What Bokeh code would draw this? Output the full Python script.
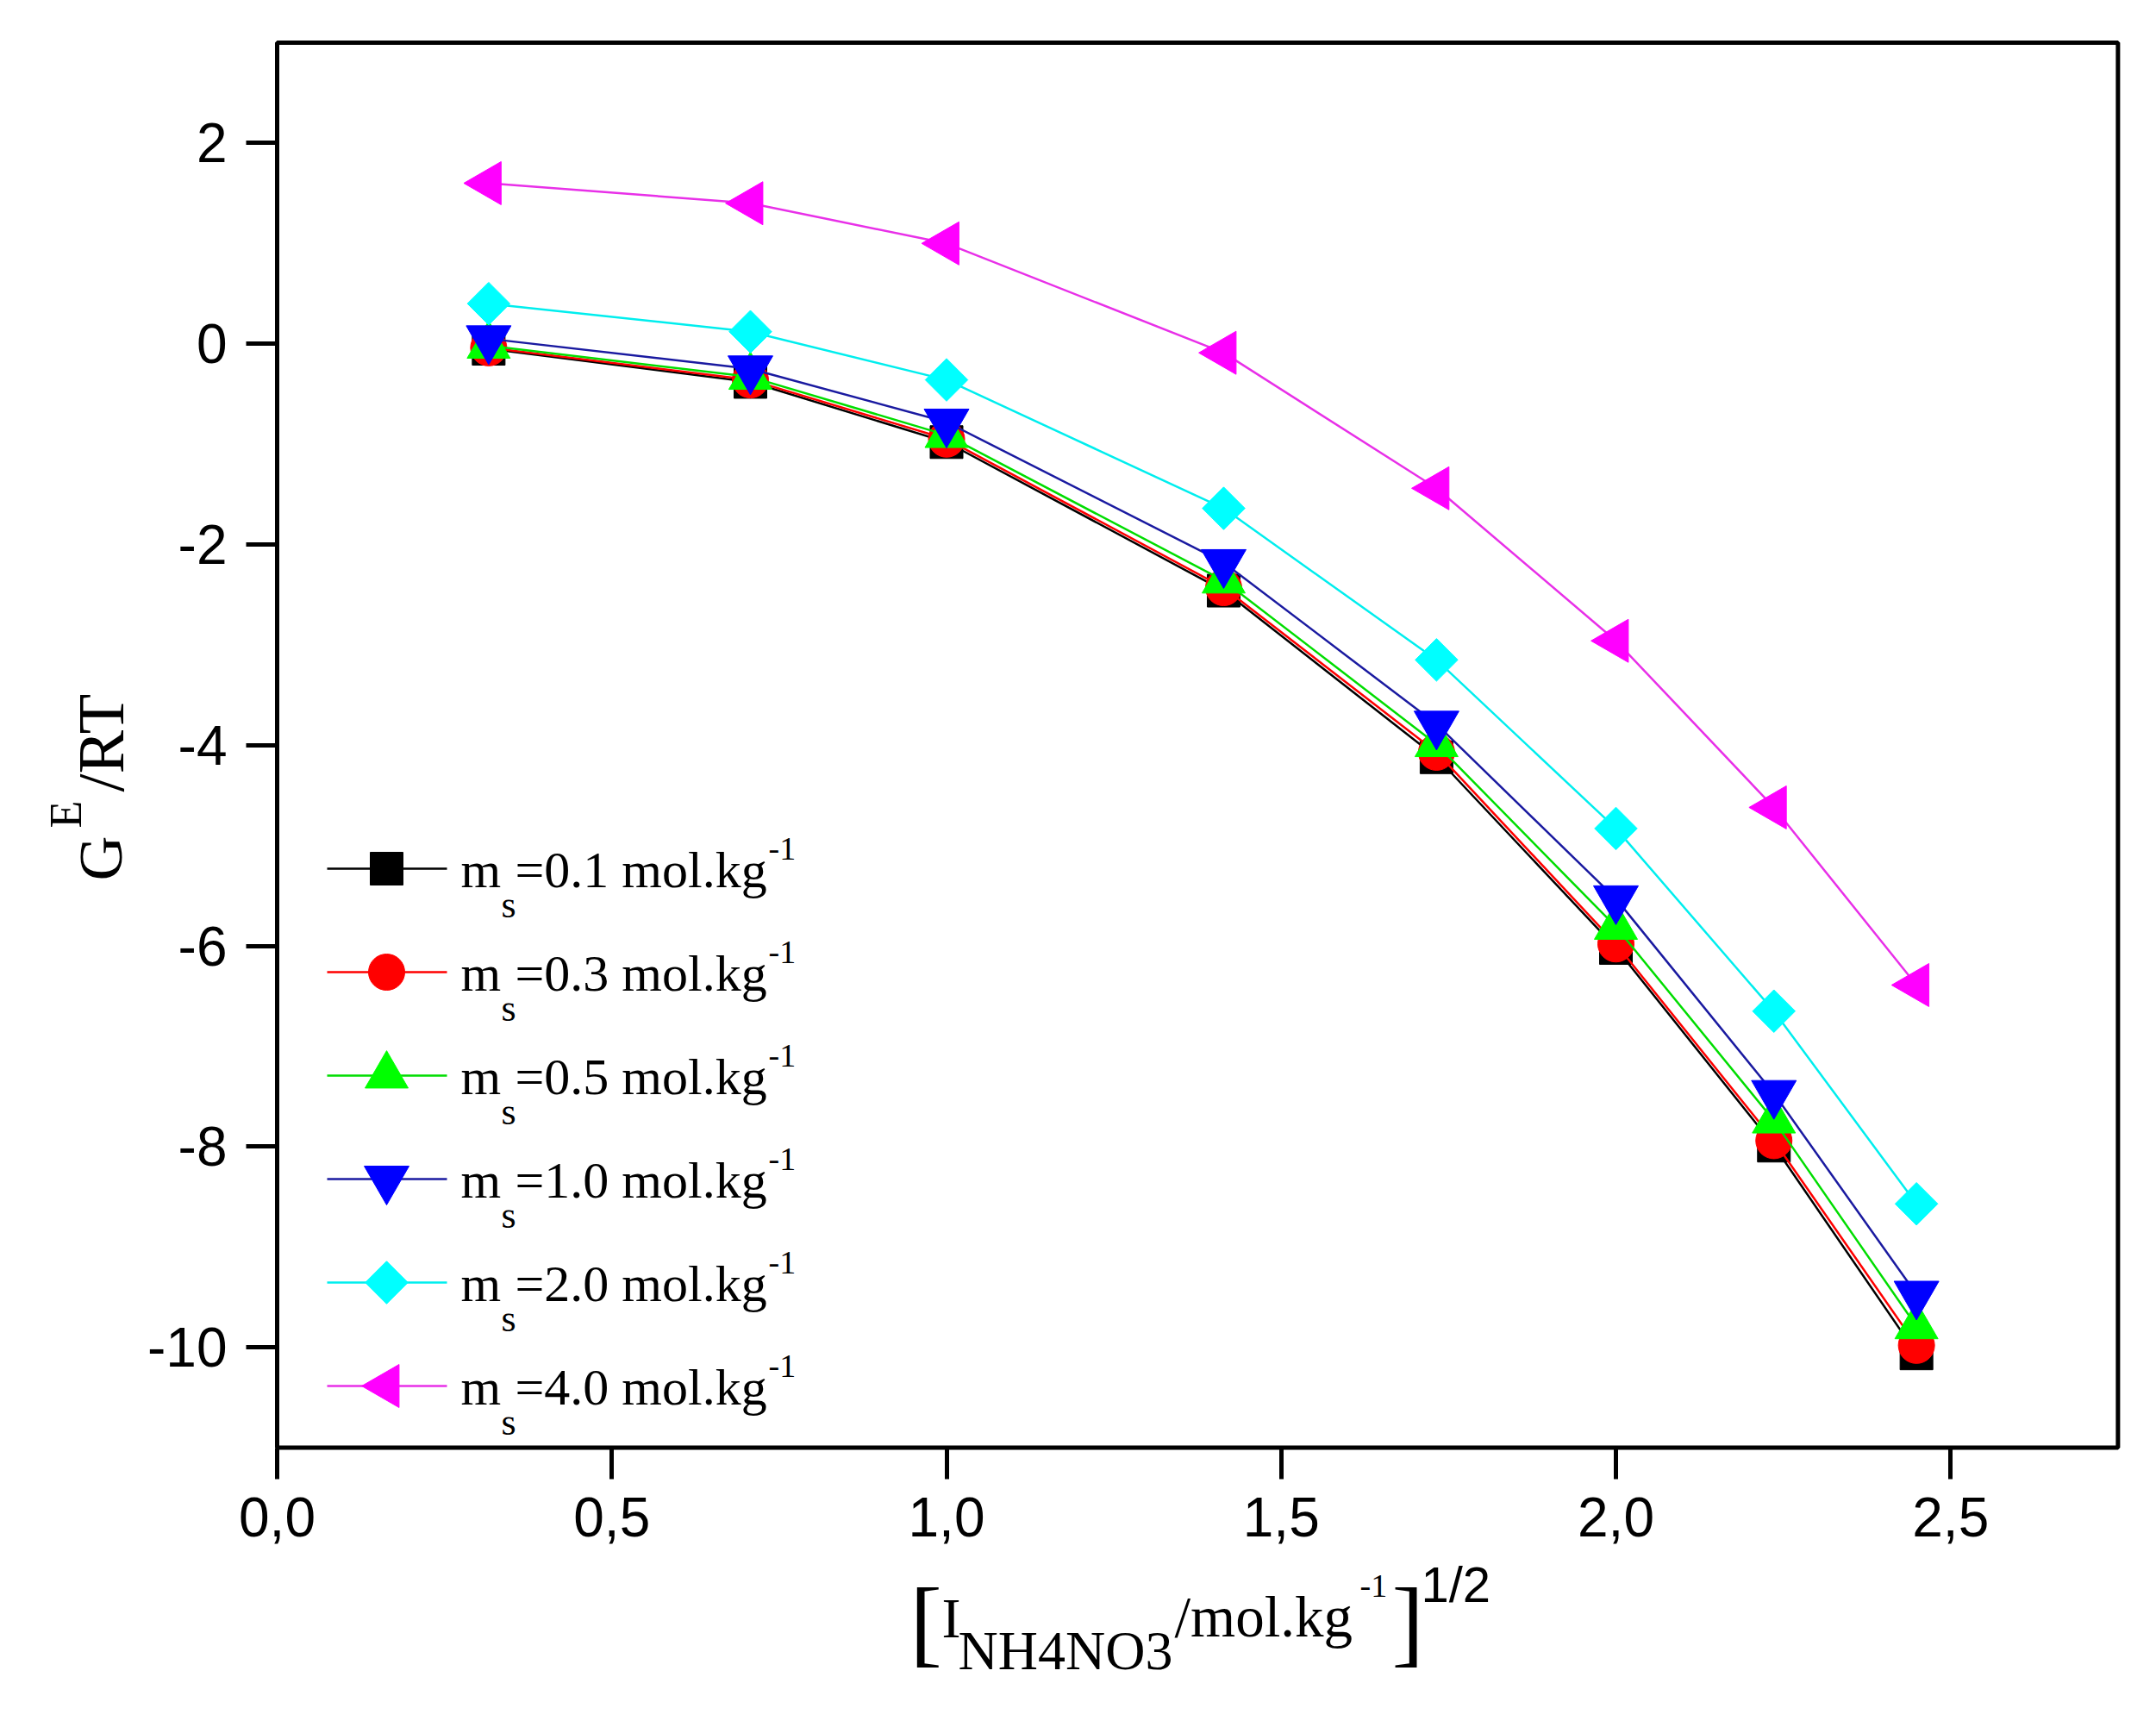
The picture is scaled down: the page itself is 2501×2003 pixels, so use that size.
"""Excess Gibbs energy G^E/RT against the square root of ionic strength."""
import numpy as np
from bokeh.plotting import figure
from bokeh.models import (Label, LinearAxis, FixedTicker, CustomJSTickFormatter,
                          BoxAnnotation)
from bokeh.embed import file_html
from bokeh.resources import INLINE

# x: [I_NH4NO3 / mol.kg-1]^1/2
sqrt_ionic = [0.316, 0.707, 1.000, 1.414, 1.732, 2.000, 2.236, 2.449]

# G^E/RT for each salt molality m_s
ge_ms_01 = [-0.05, -0.38, -0.98, -2.46, -4.12, -6.02, -7.99, -10.06]
ge_ms_03 = [-0.04, -0.36, -0.95, -2.43, -4.07, -5.98, -7.94, -9.98]
ge_ms_05 = [-0.02, -0.33, -0.91, -2.36, -3.99, -5.81, -7.74, -9.79]
ge_ms_10 = [0.05, -0.25, -0.78, -2.18, -3.79, -5.53, -7.47, -9.47]
ge_ms_20 = [0.40, 0.12, -0.36, -1.64, -3.15, -4.83, -6.65, -8.57]
ge_ms_40 = [1.60, 1.40, 1.00, -0.09, -1.44, -2.96, -4.62, -6.39]

molalities = ["0.1", "0.3", "0.5", "1.0", "2.0", "4.0"]
series = [ge_ms_01, ge_ms_03, ge_ms_05, ge_ms_10, ge_ms_20, ge_ms_40]

x_ticks = [0.0, 0.5, 1.0, 1.5, 2.0, 2.5]
y_ticks = [-10, -8, -6, -4, -2, 0, 2]
X_MIN, X_MAX, Y_MIN, Y_MAX = 0.0, 2.75, -11.0, 3.0

# marker, size, angle, fill colour, line colour
styles = [
    ("square", 38, 0.0, "#000000", "#000000"),
    ("circle", 42, 0.0, "#ff0000", "#ff0000"),
    ("triangle", 50, 0.0, "#00ff00", "#00dd00"),
    ("inverted_triangle", 52, 0.0, "#0000ff", "#1a1aa0"),
    ("square", 35, np.pi / 4, "#00ffff", "#00eeee"),
    ("triangle", 50, np.pi / 2, "#ff00ff", "#e830e8"),
]

# layout: the axes box in canvas pixels; the frame spans the whole canvas
W, H = 2490, 1990
BOX_L, BOX_T = 321, 49
PX_X, PX_Y = 776.5, 116.4


def page_x(px):
    return X_MIN + (px - BOX_L) / PX_X


def page_y(py):
    return Y_MAX - (py - BOX_T) / PX_Y


p = figure(
    width=W, height=H,
    x_range=(page_x(0), page_x(W)), y_range=(page_y(H), page_y(0)),
    x_axis_type=None, y_axis_type=None,
    min_border_left=0, min_border_right=0, min_border_top=0, min_border_bottom=0,
    output_backend="svg", toolbar_location=None,
)
p.grid.visible = False
p.outline_line_color = None
p.background_fill_color = "white"
p.border_fill_color = "white"

xaxis = LinearAxis(
    fixed_location=Y_MIN, bounds=(X_MIN, X_MAX),
    ticker=FixedTicker(ticks=x_ticks),
    formatter=CustomJSTickFormatter(code="return tick.toFixed(1).replace('.', ',')"),
)
yaxis = LinearAxis(
    fixed_location=X_MIN, bounds=(Y_MIN, Y_MAX),
    ticker=FixedTicker(ticks=y_ticks),
    formatter=CustomJSTickFormatter(code="return tick.toFixed(0)"),
)
for ax in (xaxis, yaxis):
    ax.axis_line_color = None
    ax.major_tick_line_width = 5
    ax.major_tick_line_color = "black"
    ax.major_tick_out = 36
    ax.major_tick_in = 0
    ax.minor_tick_out = 0
    ax.minor_tick_in = 0
    ax.major_label_standoff = 22
    ax.major_label_text_font = "Liberation Sans"
    ax.major_label_text_font_size = "64px"
    ax.major_label_text_color = "black"
p.add_layout(xaxis, "below")
p.add_layout(yaxis, "left")

p.add_layout(BoxAnnotation(
    left=X_MIN, right=X_MAX, bottom=Y_MIN, top=Y_MAX,
    fill_alpha=0, line_color="black", line_alpha=1.0, line_width=5,
))


def add_text(text, px, py, size, font="Liberation Serif", angle=0.0):
    # py is the vertical centre of the em box (middle baseline)
    p.add_layout(Label(
        x=page_x(px), y=page_y(py), text=text, angle=angle,
        text_font=font, text_font_size=f"{size}px", text_color="black",
        text_align="left", text_baseline="middle",
    ))


for i, (ys, ms, st) in enumerate(zip(series, molalities, styles)):
    marker, size, angle, fill, line = st
    p.line(sqrt_ionic, ys, line_color=line, line_width=2.5)
    p.scatter(sqrt_ionic, ys, marker=marker, size=size, angle=angle,
              fill_color=fill, line_color=fill, line_width=1)

    # legend key and entry text
    row_c = 1007 + 120 * i
    p.line([page_x(379), page_x(518)], [page_y(row_c)] * 2, line_color=line, line_width=2.5)
    p.scatter([page_x(448)], [page_y(row_c)], marker=marker, size=size, angle=angle,
              fill_color=fill, line_color=fill, line_width=1)
    add_text("m", 534, row_c + 1, 60)
    add_text("s", 581, row_c + 42, 44)
    add_text(f"={ms} mol.kg", 597, row_c + 1, 60)
    add_text("-1", 891, row_c - 23, 38)

# y title: G^E/RT (rotated)
add_text("G", 116, 1021, 72, angle=np.pi / 2)
add_text("E", 76, 960, 52, angle=np.pi / 2)
add_text("/RT", 116, 918, 76, angle=np.pi / 2)

# x title: [I_NH4NO3/mol.kg-1]^1/2
add_text("[", 1055, 1880, 112)
add_text("I", 1092, 1876, 66)
add_text("NH4NO3", 1111, 1914, 64)
add_text("/mol.kg", 1362, 1874, 67)
add_text("-1", 1577, 1839, 38)
add_text("]", 1614, 1880, 112)
add_text("1/2", 1648, 1837, 58, font="Liberation Sans")

open("out.html", "w").write(file_html(p, INLINE))
